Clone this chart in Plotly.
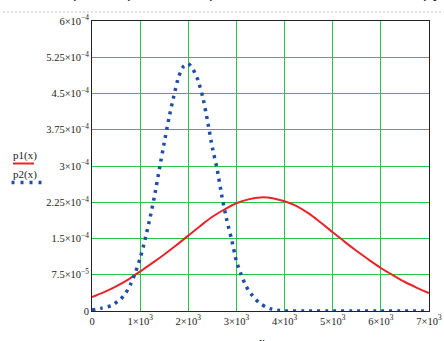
import plotly.graph_objects as go

# ---- data ----
x_p1 = [0, 250, 500, 750, 1000, 1250, 1500, 1750, 2000, 2250, 2500, 2750, 3000, 3250, 3500,
        3750, 4000, 4250, 4500, 4750, 5000, 5250, 5500, 5750, 6000, 6250, 6500, 6750, 7000]
p1 = [2.9e-5, 3.9e-5, 5.1e-5, 6.5e-5, 8.2e-5, 9.9e-5, 1.17e-4, 1.36e-4, 1.56e-4, 1.76e-4,
      1.95e-4, 2.1e-4, 2.23e-4, 2.31e-4, 2.35e-4, 2.335e-4, 2.27e-4, 2.17e-4, 2.02e-4, 1.83e-4,
      1.63e-4, 1.43e-4, 1.24e-4, 1.06e-4, 8.9e-5, 7.4e-5, 6.0e-5, 4.8e-5, 3.7e-5]

x_p2 = [0, 200, 400, 600, 700, 800, 900, 1000, 1100, 1200, 1300, 1400, 1500, 1600, 1700, 1800,
        1900, 2000, 2100, 2200, 2300, 2400, 2500, 2600, 2700, 2800, 2900, 3000, 3100, 3200,
        3300, 3400, 3500, 3600, 3700, 3800, 3900, 4000, 4500, 5000, 5500, 6000, 6500, 7000]
p2 = [2e-6, 6e-6, 1.1e-5, 2.5e-5, 3.7e-5, 5.5e-5, 7.9e-5, 1.09e-4, 1.47e-4, 1.9e-4, 2.39e-4,
      2.94e-4, 3.48e-4, 4.0e-4, 4.45e-4, 4.85e-4, 5.06e-4, 5.12e-4, 5.0e-4, 4.78e-4, 4.43e-4,
      3.93e-4, 3.38e-4, 2.93e-4, 2.36e-4, 1.88e-4, 1.48e-4, 1.03e-4, 7.5e-5, 5.1e-5, 3.6e-5,
      2.4e-5, 1.5e-5, 9e-6, 5e-6, 2.5e-6, 1e-6, 0, 0, 0, 0, 0, 0, 0]

x_ticks = [0, 1000, 2000, 3000, 4000, 5000, 6000, 7000]
x_ticktext = ["0", "1×10<sup>3</sup>", "2×10<sup>3</sup>", "3×10<sup>3</sup>", "4×10<sup>3</sup>",
              "5×10<sup>3</sup>", "6×10<sup>3</sup>", "7×10<sup>3</sup>"]
y_ticks = [0, 7.5e-5, 1.5e-4, 2.25e-4, 3e-4, 3.75e-4, 4.5e-4, 5.25e-4, 6e-4]
y_ticktext = ["0", "7.5×10<sup>−5</sup>", "1.5×10<sup>−4</sup>", "2.25×10<sup>−4</sup>",
              "3×10<sup>−4</sup>", "3.75×10<sup>−4</sup>", "4.5×10<sup>−4</sup>",
              "5.25×10<sup>−4</sup>", "6×10<sup>−4</sup>"]

RED = "#e8242a"
BLUE = "#1f4ea8"
GRID = "rgb(40,195,80)"
SERIF = "Liberation Serif"

fig = go.Figure()
fig.add_trace(go.Scatter(x=x_p1, y=p1, mode="lines", line=dict(color=RED, width=2, shape="spline"),
                         cliponaxis=False, showlegend=False, hoverinfo="skip"))
fig.add_trace(go.Scatter(x=x_p2, y=p2, mode="lines",
                         line=dict(color=BLUE, width=3.5, dash="3px,5px", shape="spline", smoothing=0.5),
                         cliponaxis=False, showlegend=False, hoverinfo="skip"))

L, R, T, B = 92, 429, 21, 311
W, H = R - L, B - T

def px(x):
    return (x - L) / W

def py(y):
    return (B - y) / H

shapes = [
    # dashed rule at top
    dict(type="line", xref="paper", yref="paper", x0=px(3), x1=px(444), y0=py(12), y1=py(12),
         line=dict(color="#c4c4c4", width=1, dash="2px,2px")),
    # legend samples
    dict(type="line", xref="paper", yref="paper", x0=px(13), x1=px(34), y0=py(163.5), y1=py(163.5),
         line=dict(color=RED, width=2)),
    dict(type="line", xref="paper", yref="paper", x0=px(11.5), x1=px(43), y0=py(182.5), y1=py(182.5),
         line=dict(color=BLUE, width=3.5, dash="3px,6px")),
]

annotations = [
    dict(text="p1(x)", xref="paper", yref="paper", x=px(25), y=py(155), xanchor="center",
         yanchor="middle", showarrow=False, font=dict(family=SERIF, size=11, color="#222")),
    dict(text="p2(x)", xref="paper", yref="paper", x=px(25), y=py(174), xanchor="center",
         yanchor="middle", showarrow=False, font=dict(family=SERIF, size=11, color="#222")),
    dict(text="x", xref="paper", yref="paper", x=px(262), y=py(333), xanchor="center",
         yanchor="top", showarrow=False, font=dict(family=SERIF, size=12, color="#222")),
]
for cx, ch in [(77, "p"), (131, "p"), (213, "p"), (427, "p"), (437, "y")]:
    annotations.append(dict(text=ch, xref="paper", yref="paper", x=px(cx), y=py(3), xanchor="center",
                            yanchor="bottom", showarrow=False,
                            font=dict(family="Liberation Sans", size=16, color="#222")))

fig.update_layout(
    width=444, height=341,
    margin=dict(l=L, r=444 - R, t=T, b=341 - B, autoexpand=False),
    paper_bgcolor="white", plot_bgcolor="white",
    shapes=shapes, annotations=annotations,
    xaxis=dict(range=[0, 7000], tickvals=x_ticks, ticktext=x_ticktext, automargin=False,
               showgrid=True, gridcolor=GRID, gridwidth=1, zeroline=False,
               showline=True, mirror=True, linecolor="#222", linewidth=1, ticks="",
               tickfont=dict(family=SERIF, size=10.5, color="#222")),
    yaxis=dict(range=[0, 6e-4], tickvals=y_ticks, ticktext=y_ticktext, automargin=False,
               showgrid=True, gridcolor=GRID, gridwidth=1, zeroline=False,
               showline=True, mirror=True, linecolor="#222", linewidth=1, ticks="",
               tickfont=dict(family=SERIF, size=10.5, color="#222")),
)

fig.write_html("out.html", config={"displayModeBar": False},
               post_script="document.body.style.margin='0';document.body.style.overflow='hidden';")
